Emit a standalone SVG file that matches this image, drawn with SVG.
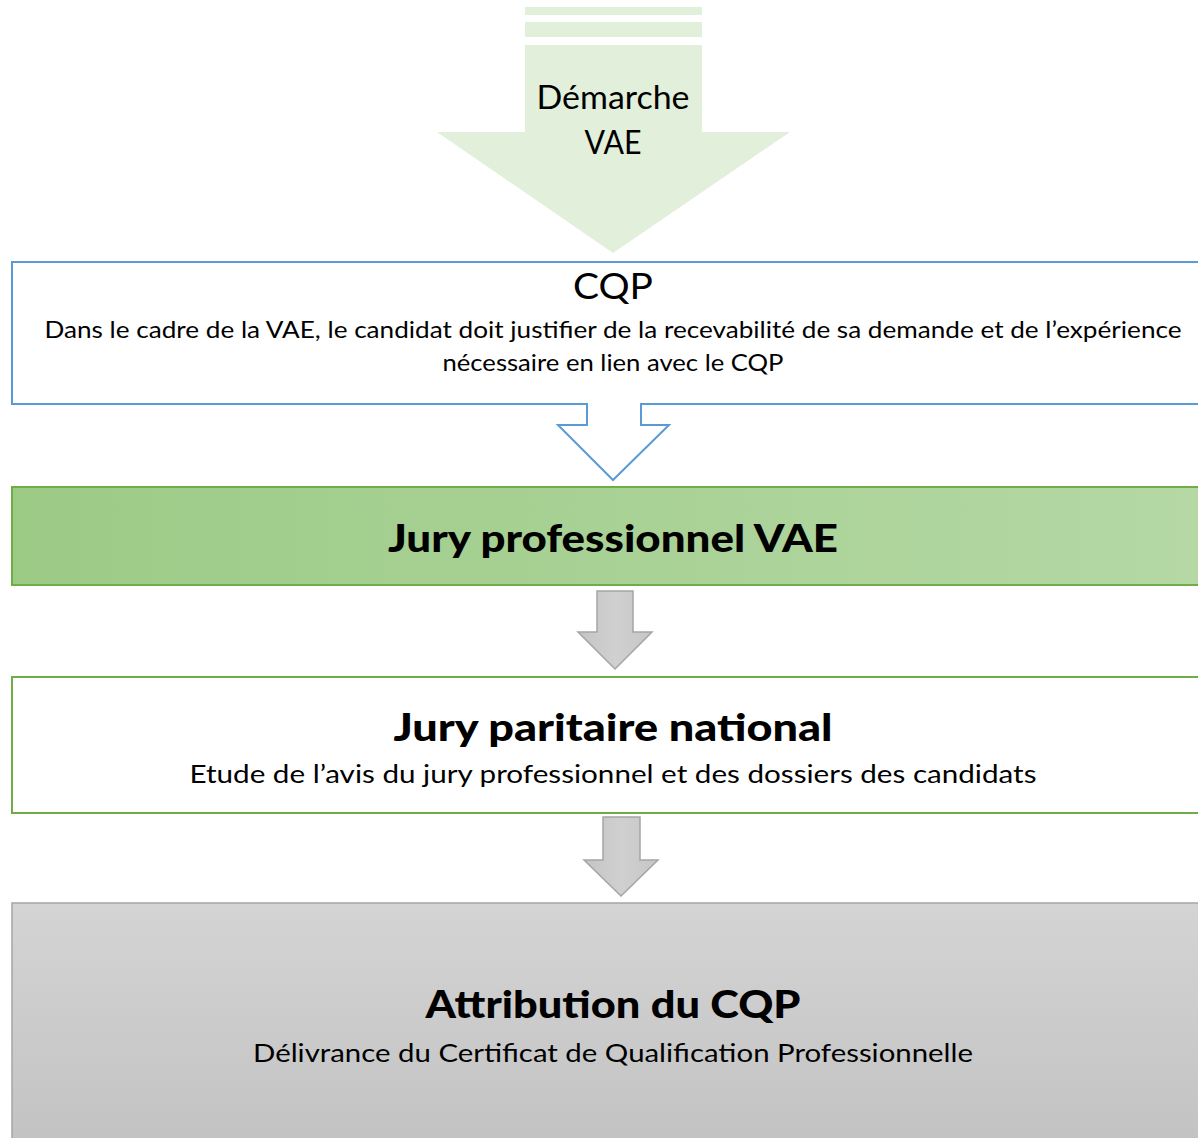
<svg xmlns="http://www.w3.org/2000/svg" width="1198" height="1138" viewBox="0 0 1198 1138">
<defs>
<linearGradient id="gGreen" x1="0" y1="0" x2="1" y2="0">
<stop offset="0" stop-color="#9ccb86"/>
<stop offset="1" stop-color="#b5d8a5"/>
</linearGradient>
<linearGradient id="gGrayV" x1="0" y1="0" x2="0" y2="1">
<stop offset="0" stop-color="#d4d4d4"/>
<stop offset="1" stop-color="#c2c2c2"/>
</linearGradient>
<linearGradient id="gArrow" x1="0" y1="0" x2="1" y2="0">
<stop offset="0" stop-color="#c4c4c4"/>
<stop offset="0.5" stop-color="#d0d0d0"/>
<stop offset="1" stop-color="#c6c6c6"/>
</linearGradient>
</defs>
<style>
text{font-family:Lato,"Open Sans","Liberation Sans",sans-serif;fill:#000;text-anchor:middle}
.b{font-weight:900}
.garrow{fill:url(#gArrow);stroke:#a5a5a5;stroke-width:1.5}
</style>
<rect width="1198" height="1138" fill="#fff"/>

<g id="demarche">
<rect x="525" y="7" width="177" height="8" fill="#e2efda"/>
<rect x="525" y="22" width="177" height="15" fill="#e2efda"/>
<path d="M525,45 H702 V132 H790 L613,253 L437,132 H525 Z" fill="#e2efda"/>
<text x="613" y="109" font-size="33" textLength="153" lengthAdjust="spacingAndGlyphs">Démarche</text>
<text x="613" y="154" font-size="33" textLength="57" lengthAdjust="spacingAndGlyphs">VAE</text>
</g>

<g id="cqp">
<path d="M12,262 H1212 V404 H641 V425 H669 L613,480 L558,425 H587 V404 H12 Z" fill="#fff" stroke="#5b9bd5" stroke-width="2"/>
<text x="613" y="299" font-size="37" textLength="80" lengthAdjust="spacingAndGlyphs">CQP</text>
<text x="613" y="338" font-size="22.5" textLength="1137" lengthAdjust="spacingAndGlyphs">Dans le cadre de la VAE, le candidat doit justifier de la recevabilité de sa demande et de l’expérience</text>
<text x="613" y="371" font-size="22.5" textLength="341" lengthAdjust="spacingAndGlyphs">nécessaire en lien avec le CQP</text>
</g>

<g id="jury-pro">
<rect x="12" y="487" width="1200" height="98" fill="url(#gGreen)" stroke="#70ad47" stroke-width="2"/>
<text class="b" x="613" y="552" font-size="38" textLength="450" lengthAdjust="spacingAndGlyphs">Jury professionnel VAE</text>
</g>

<g id="jury-paritaire">
<rect x="12" y="677" width="1200" height="136" fill="#fff" stroke="#70ad47" stroke-width="2"/>
<text class="b" x="613" y="741" font-size="38" textLength="439" lengthAdjust="spacingAndGlyphs">Jury paritaire national</text>
<text x="613" y="783" font-size="24.5" textLength="847" lengthAdjust="spacingAndGlyphs">Etude de l’avis du jury professionnel et des dossiers des candidats</text>
</g>

<g id="attribution">
<rect x="12" y="903" width="1200" height="250" fill="url(#gGrayV)" stroke="#a5a5a5" stroke-width="1.5"/>
<text class="b" x="613" y="1018" font-size="38" textLength="375" lengthAdjust="spacingAndGlyphs">Attribution du CQP</text>
<text x="613" y="1062" font-size="25" textLength="720" lengthAdjust="spacingAndGlyphs">Délivrance du Certificat de Qualification Professionnelle</text>
</g>

<g id="connectors">
<path class="garrow" d="M597,591 H633 V632 H652 L615,669 L578,632 H597 Z"/>
<path class="garrow" d="M603,817 H640 V860 H658 L621,896 L584,860 H603 Z"/>
</g>
</svg>
